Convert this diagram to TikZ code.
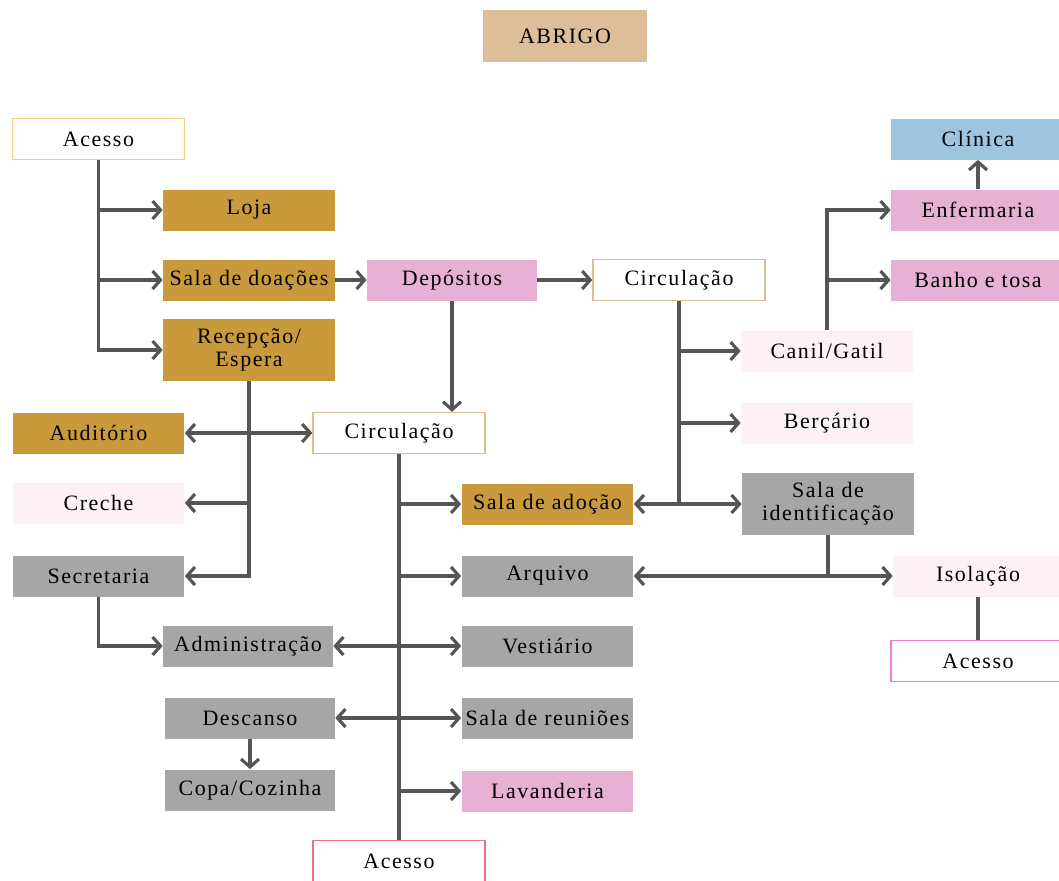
\documentclass[tikz,border=0pt]{standalone}
\usepackage{fontspec}
\setmainfont{Liberation Serif}[LetterSpace=7]
\usepackage{xcolor}
\usetikzlibrary{arrows.meta,positioning}

\definecolor{gold}{HTML}{C99A3C}
\definecolor{rosa}{HTML}{E6B1D4}
\definecolor{rosaclaro}{HTML}{FDF1F6}
\definecolor{cinza}{HTML}{A6A6A6}
\definecolor{azul}{HTML}{9DC6DE}
\definecolor{bege}{HTML}{DCBE98}
\definecolor{linha}{HTML}{555555}
\definecolor{bordalaranja}{HTML}{F8CB85}
\definecolor{bordabege}{HTML}{DDBE92}
\definecolor{bordavermelha}{HTML}{F07575}
\definecolor{bordarosa}{HTML}{F27DCB}

\tikzset{
  sala/.style={rectangle, minimum width=3.44cm, minimum height=0.82cm, inner sep=1pt, align=center, font=\fontsize{12.5}{13}\selectfont},
  ouro/.style={sala, fill=gold},
  rosa/.style={sala, fill=rosa},
  claro/.style={sala, fill=rosaclaro},
  adm/.style={sala, fill=cinza},
  circ/.style={sala, fill=white, draw=bordabege, line width=0.8pt},
  fluxo/.style={draw=linha, line width=1.8pt},
  seta/.style={fluxo, -{Straight Barb[length=1.6mm,width=3.6mm]}},
  dupla/.style={fluxo, {Straight Barb[length=1.6mm,width=3.6mm]}-{Straight Barb[length=1.6mm,width=3.6mm]}}
}

\begin{document}
\begin{tikzpicture}[x=0.02cm, y=-0.02cm]
    \useasboundingbox (0,0) rectangle (1059,880);

    \node[sala, fill=bege, minimum width=3.28cm, minimum height=1.04cm] (abrigo) at (565,36) {ABRIGO};

    % entrada principal
    \node[circ, draw=bordalaranja] (acessoA) at (98.5,139) {Acesso};
    \node[ouro] (loja) at (249,210) {Loja};
    \node[ouro] (doacoes) at (249,280) {Sala de doações};
    \node[ouro, minimum height=1.24cm] (recepcao) at (249,350) {Recepção/\\Espera};
    \node[rosa, minimum width=3.4cm] (depositos) at (452,280) {Depósitos};
    \node[circ] (circR) at (679,280) {Circulação};

    % lado direito
    \node[sala, fill=azul, minimum width=3.48cm] (clinica) at (978,139) {Clínica};
    \node[rosa, minimum width=3.48cm] (enfermaria) at (978,210) {Enfermaria};
    \node[rosa, minimum width=3.48cm] (banho) at (978,280) {Banho e tosa};
    \node[claro] (canil) at (827,351) {Canil/Gatil};
    \node[claro] (bercario) at (827,423) {Berçário};
    \node[adm, minimum height=1.24cm] (identificacao) at (828,504) {Sala de\\identificação};
    \node[claro, minimum width=3.4cm] (isolacao) at (978,576) {Isolação};
    \node[circ, draw=bordarosa, minimum width=3.48cm] (acessoR) at (978,661) {Acesso};

    % lado esquerdo
    \node[ouro] (auditorio) at (98.5,433) {Auditório};
    \node[circ] (circM) at (399,433) {Circulação};
    \node[claro] (creche) at (98.5,503) {Creche};
    \node[adm] (secretaria) at (98.5,576) {Secretaria};
    \node[adm, minimum width=3.4cm] (administracao) at (248,646) {Administração};
    \node[adm, minimum width=3.4cm] (descanso) at (250,718) {Descanso};
    \node[adm, minimum width=3.4cm] (copa) at (250,790) {Copa/Cozinha};

    % centro
    \node[ouro] (adocao) at (547.5,504) {Sala de adoção};
    \node[adm] (arquivo) at (547.5,576) {Arquivo};
    \node[adm] (vestiario) at (547.5,646) {Vestiário};
    \node[adm] (reunioes) at (547.5,718) {Sala de reuniões};
    \node[rosa] (lavanderia) at (547.5,791) {Lavanderia};
    \node[circ, draw=bordavermelha] (acessoB) at (399,861) {Acesso};

    % conexoes
    \draw[seta] (acessoA.south) |- (loja.west);
    \draw[seta] (acessoA.south) |- (doacoes.west);
    \draw[seta] (acessoA.south) |- (recepcao.west);
    \draw[seta] (doacoes) -- (depositos);
    \draw[seta] (depositos) -- (circR);
    \draw[seta] (depositos.south) -- (depositos.south |- circM.north);

    \draw[seta] (recepcao.south) |- (creche.east);
    \draw[seta] (recepcao.south) |- (secretaria.east);
    \draw[dupla] (auditorio) -- (circM);
    \draw[seta] (secretaria.south) |- (administracao.west);

    \draw[fluxo] (circM.south) -- (acessoB.north);
    \draw[seta] (circM.south) |- (adocao.west);
    \draw[seta] (circM.south) |- (arquivo.west);
    \draw[seta] (circM.south) |- (lavanderia.west);
    \draw[dupla] (administracao) -- (vestiario);
    \draw[dupla] (descanso) -- (reunioes);
    \draw[seta] (descanso) -- (copa);

    \draw[seta] (circR.south) |- (canil.west);
    \draw[seta] (circR.south) |- (bercario.west);
    \draw[fluxo] (circR.south) -- (circR.south |- adocao);
    \draw[dupla] (adocao) -- (identificacao);
    \draw[seta] (canil.north) |- (enfermaria.west);
    \draw[seta] (canil.north) |- (banho.west);
    \draw[seta] (enfermaria) -- (clinica);

    \draw[fluxo] (identificacao.south) -- (identificacao.south |- arquivo);
    \draw[dupla] (arquivo) -- (isolacao);
    \draw[fluxo] (isolacao) -- (acessoR);
\end{tikzpicture}
\end{document}
